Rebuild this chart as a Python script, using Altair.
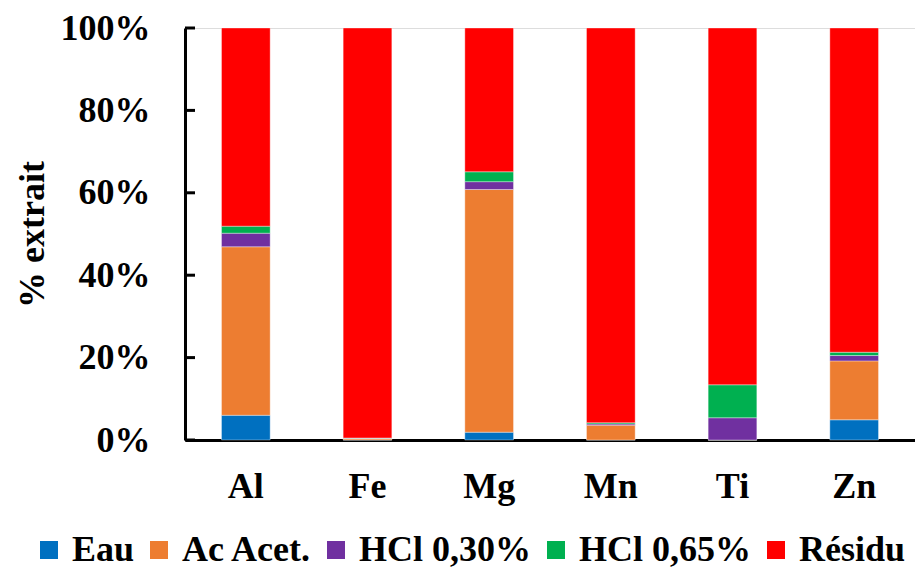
import altair as alt
import pandas as pd

elements = ["Al", "Fe", "Mg", "Mn", "Ti", "Zn"]
fractions = ["Eau", "Ac Acet.", "HCl 0,30%", "HCl 0,65%", "Résidu"]
colors = ["#0070C0", "#ED7D31", "#7030A0", "#00B050", "#FF0000"]

eau = [6.0, 0.0, 1.9, 0.0, 0.0, 4.9]
ac_acet = [40.9, 0.3, 58.9, 3.6, 0.0, 14.3]
hcl_030 = [3.3, 0.1, 1.9, 0.3, 5.4, 1.3]
hcl_065 = [1.7, 0.1, 2.4, 0.3, 8.0, 0.8]
residu = [48.1, 99.5, 34.9, 95.8, 86.6, 78.7]

y_ticks = [0, 20, 40, 60, 80, 100]

series = [eau, ac_acet, hcl_030, hcl_065, residu]
rows = []
for k, (name, vals) in enumerate(zip(fractions, series)):
    for el, v in zip(elements, vals):
        rows.append({"element": el, "fraction": name, "value": v, "order": k})
df = pd.DataFrame(rows)

FONT = "Liberation Serif"

y_axis = alt.Axis(title="% extrait", values=y_ticks, ticks=False,
                  labelExpr="datum.value + '%'", labelPadding=35,
                  labelFontSize=36, labelFont=FONT, labelFontWeight="bold",
                  labelColor="black", titleFontSize=36, titleFont=FONT,
                  titleFontWeight="bold", titleColor="black", titlePadding=9,
                  domainColor="black", domainWidth=3, grid=False)
y_scale = alt.Scale(domain=[0, 100], nice=False)

bars = alt.Chart(df).mark_bar(stroke="#ffffff", strokeWidth=0.6, strokeOpacity=0.6).encode(
    x=alt.X("element:N", sort=elements,
            scale=alt.Scale(paddingInner=0.6, paddingOuter=0.3),
            axis=alt.Axis(title=None, ticks=False, labelAngle=0, labelPadding=29,
                          labelFontSize=36, labelFont=FONT, labelFontWeight="bold",
                          labelColor="black", domainColor="black", domainWidth=3)),
    y=alt.Y("value:Q", stack="zero", scale=y_scale, axis=y_axis),
    color=alt.Color("fraction:N",
                    scale=alt.Scale(domain=fractions, range=colors),
                    legend=alt.Legend(title=None, orient="none", direction="horizontal",
                                      legendX=-154, legendY=504,
                                      symbolType="square", symbolSize=324,
                                      symbolStrokeWidth=0, labelFontSize=36,
                                      labelFont=FONT, labelFontWeight="bold",
                                      labelColor="black", labelOffset=5,
                                      columnPadding=6, labelLimit=400)),
    order=alt.Order("order:Q", sort="ascending"),
)

tick_df = pd.DataFrame({"value": y_ticks})
ticks = alt.Chart(tick_df).mark_rule(color="black", strokeWidth=3).encode(
    y=alt.Y("value:Q", scale=y_scale, axis=y_axis),
    x=alt.value(0),
    x2=alt.value(10),
)

chart = alt.layer(bars, ticks).properties(
    width=730, height=412,
    autosize=alt.AutoSizeParams(type="none"),
    padding={"left": 177, "top": 20, "right": 0, "bottom": 140},
).configure_view(stroke=None).configure(
    background="white", font=FONT
).configure_legend(labelFont=FONT, labelFontWeight="bold")

chart.save("out.html", embed_options={"renderer": "svg", "actions": False})
